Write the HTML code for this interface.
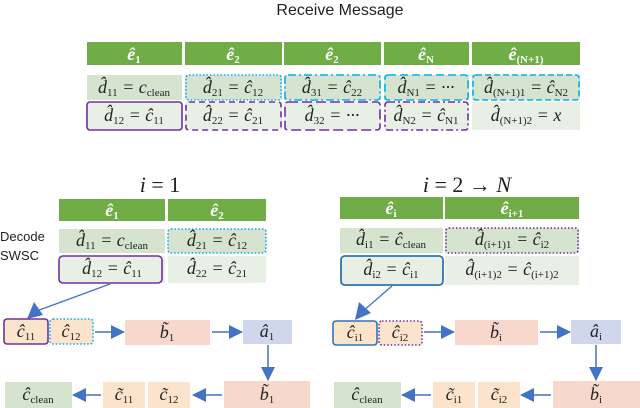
<!DOCTYPE html>
<html><head><meta charset="utf-8"><style>
html,body{margin:0;padding:0;background:#fff;}
svg{display:block;}
.m{font-family:"Liberation Serif",serif;font-style:italic;font-size:18px;fill:#222;}
.h{font-family:"Liberation Serif",serif;font-style:italic;font-weight:bold;font-size:18px;fill:#fff;}
.s{font-size:11px;font-style:normal;}
</style></head><body>
<svg width="640" height="408" viewBox="0 0 640 408" xmlns="http://www.w3.org/2000/svg">
<defs>
<marker id="ar" markerWidth="14" markerHeight="14" refX="13" refY="7" orient="auto" markerUnits="userSpaceOnUse" viewBox="0 0 14 14"><path d="M0,0 L14,7 L0,14z" fill="#4472c4"/></marker>
</defs>
<text x="340" y="15" text-anchor="middle" font-family="Liberation Sans,sans-serif" font-size="16" fill="#222">Receive Message</text>

<!-- top table -->
<g fill="#70ad47">
<rect x="87" y="42" width="95" height="23"/><rect x="185" y="42" width="97" height="23"/><rect x="284" y="42" width="97" height="23"/><rect x="384" y="42" width="85" height="23"/><rect x="472" y="42" width="108" height="23"/>
</g>
<g fill="#d5e3cf">
<rect x="87" y="75" width="95" height="25"/><rect x="185" y="75" width="97" height="25"/><rect x="284" y="75" width="97" height="25"/><rect x="384" y="75" width="85" height="25"/><rect x="472" y="75" width="108" height="25"/>
</g>
<g fill="#e8efe5">
<rect x="87" y="102" width="95" height="28"/><rect x="185" y="102" width="97" height="28"/><rect x="284" y="102" width="97" height="28"/><rect x="384" y="102" width="85" height="28"/><rect x="472" y="102" width="108" height="28"/>
</g>
<g class="h" text-anchor="middle">
<text x="134" y="60">ê<tspan class="s" dy="3">1</tspan></text>
<text x="233" y="60">ê<tspan class="s" dy="3">2</tspan></text>
<text x="332" y="60">ê<tspan class="s" dy="3">2</tspan></text>
<text x="426" y="60">ê<tspan class="s" dy="3">N</tspan></text>
<text x="526" y="60">ê<tspan class="s" dy="3">(N+1)</tspan></text>
</g>
<g class="m" text-anchor="middle">
<text x="134" y="93">d̂<tspan class="s" dy="3">11</tspan><tspan dy="-3"> = c</tspan><tspan class="s" dy="3">clean</tspan></text>
<text x="233" y="93">d̂<tspan class="s" dy="3">21</tspan><tspan dy="-3"> = ĉ</tspan><tspan class="s" dy="3">12</tspan></text>
<text x="332" y="93">d̂<tspan class="s" dy="3">31</tspan><tspan dy="-3"> = ĉ</tspan><tspan class="s" dy="3">22</tspan></text>
<text x="426" y="93">d̂<tspan class="s" dy="3">N1</tspan><tspan dy="-3"> = ···</tspan></text>
<text x="526" y="93">d̂<tspan class="s" dy="3">(N+1)1</tspan><tspan dy="-3"> = ĉ</tspan><tspan class="s" dy="3">N2</tspan></text>
<text x="134" y="121">d̂<tspan class="s" dy="3">12</tspan><tspan dy="-3"> = ĉ</tspan><tspan class="s" dy="3">11</tspan></text>
<text x="233" y="121">d̂<tspan class="s" dy="3">22</tspan><tspan dy="-3"> = ĉ</tspan><tspan class="s" dy="3">21</tspan></text>
<text x="332" y="121">d̂<tspan class="s" dy="3">32</tspan><tspan dy="-3"> = ···</tspan></text>
<text x="426" y="121">d̂<tspan class="s" dy="3">N2</tspan><tspan dy="-3"> = ĉ</tspan><tspan class="s" dy="3">N1</tspan></text>
<text x="526" y="121">d̂<tspan class="s" dy="3">(N+1)2</tspan><tspan dy="-3"> = x</tspan></text>
</g>
<g fill="none" stroke-width="1.6">
<rect x="186" y="75" width="95" height="25" rx="3" stroke="#00b0f0" stroke-dasharray="1.5,2"/>
<rect x="285" y="75" width="95" height="25" rx="3" stroke="#00b0f0" stroke-dasharray="8,3,2,3"/>
<rect x="385" y="75" width="83" height="25" rx="3" stroke="#00b0f0" stroke-dasharray="8,4"/>
<rect x="473" y="75" width="106" height="25" rx="3" stroke="#00b0f0" stroke-dasharray="6,3"/>
<rect x="87" y="102" width="95" height="28" rx="3" stroke="#7030a0"/>
<rect x="186" y="102" width="95" height="28" rx="3" stroke="#7030a0" stroke-dasharray="6,4"/>
<rect x="285" y="102" width="95" height="28" rx="3" stroke="#7030a0" stroke-dasharray="10,4"/>
<rect x="385" y="102" width="83" height="28" rx="3" stroke="#7030a0" stroke-dasharray="7,3,2,3"/>
</g>

<!-- left -->
<text x="160" y="192" text-anchor="middle" font-family="Liberation Serif,serif" font-size="22" fill="#222"><tspan font-style="italic">i</tspan> = 1</text>
<text x="0" y="241" font-family="Liberation Sans,sans-serif" font-size="13" fill="#222">Decode</text>
<text x="0" y="260" font-family="Liberation Sans,sans-serif" font-size="13" fill="#222">SWSC</text>
<rect x="59" y="199" width="106" height="22" fill="#70ad47"/><rect x="168" y="199" width="98" height="22" fill="#70ad47"/>
<rect x="59" y="229" width="106" height="24" fill="#d5e3cf"/><rect x="168" y="229" width="98" height="24" fill="#d5e3cf"/>
<rect x="59" y="256" width="106" height="27" fill="#e8efe5"/><rect x="168" y="256" width="98" height="27" fill="#e8efe5"/>
<g class="h" text-anchor="middle"><text x="112" y="216">ê<tspan class="s" dy="3">1</tspan></text><text x="217" y="216">ê<tspan class="s" dy="3">2</tspan></text></g>
<g class="m" text-anchor="middle">
<text x="112" y="246">d̂<tspan class="s" dy="3">11</tspan><tspan dy="-3"> = c</tspan><tspan class="s" dy="3">clean</tspan></text>
<text x="217" y="246">d̂<tspan class="s" dy="3">21</tspan><tspan dy="-3"> = ĉ</tspan><tspan class="s" dy="3">12</tspan></text>
<text x="112" y="274">d̂<tspan class="s" dy="3">12</tspan><tspan dy="-3"> = ĉ</tspan><tspan class="s" dy="3">11</tspan></text>
<text x="217" y="274">d̂<tspan class="s" dy="3">22</tspan><tspan dy="-3"> = ĉ</tspan><tspan class="s" dy="3">21</tspan></text>
</g>
<rect x="168" y="229" width="98" height="24" rx="3" fill="none" stroke="#00b0f0" stroke-width="1.6" stroke-dasharray="1.5,2"/>
<rect x="59" y="256" width="103" height="27" rx="4" fill="none" stroke="#7030a0" stroke-width="1.6"/>
<line x1="110" y1="284" x2="34" y2="312" stroke="#4472c4" stroke-width="1.3"/>
<path d="M27,319 L34,302 L43,315z" fill="#4472c4"/>

<rect x="4" y="319" width="44" height="25" fill="#fce4cc"/><rect x="50" y="319" width="43" height="25" fill="#fce4cc"/>
<rect x="4" y="319" width="44" height="25" rx="3" fill="none" stroke="#7030a0" stroke-width="1.6"/>
<rect x="50" y="319" width="43" height="25" rx="3" fill="none" stroke="#00b0f0" stroke-width="1.6" stroke-dasharray="1.5,2"/>
<rect x="125" y="320" width="85" height="25" fill="#f8d7cc"/>
<rect x="243" y="320" width="49" height="24" fill="#d0d6ec"/>
<rect x="224" y="381" width="86" height="27" fill="#f8d7cc"/>
<rect x="103" y="382" width="42" height="26" fill="#fce4cc"/><rect x="148" y="382" width="42" height="26" fill="#fce4cc"/>
<rect x="5" y="382" width="67" height="26" fill="#d5e3cf"/>
<g stroke="#4472c4" stroke-width="1.5" marker-end="url(#ar)">
<line x1="95" y1="332" x2="124" y2="332"/><line x1="212" y1="332" x2="242" y2="332"/>
<line x1="268" y1="345" x2="268" y2="380"/><line x1="222" y1="395" x2="193" y2="395"/><line x1="101" y1="395" x2="73" y2="395"/>
</g>
<g class="m" text-anchor="middle">
<text x="26" y="337">ĉ<tspan class="s" dy="3">11</tspan></text><text x="71" y="337">ĉ<tspan class="s" dy="3">12</tspan></text>
<text x="167" y="338">b̃<tspan class="s" dy="3">1</tspan></text><text x="267" y="337">â<tspan class="s" dy="3">1</tspan></text>
<text x="267" y="400">b̃<tspan class="s" dy="3">1</tspan></text>
<text x="124" y="400">c̃<tspan class="s" dy="3">11</tspan></text><text x="169" y="400">c̃<tspan class="s" dy="3">12</tspan></text>
<text x="38" y="400">ĉ<tspan class="s" dy="3">clean</tspan></text>
</g>

<!-- right -->
<text x="467" y="192" text-anchor="middle" font-family="Liberation Serif,serif" font-size="22" fill="#222"><tspan font-style="italic">i</tspan> = 2 → <tspan font-style="italic">N</tspan></text>
<rect x="340" y="197" width="103" height="22" fill="#70ad47"/><rect x="445" y="197" width="134" height="22" fill="#70ad47"/>
<rect x="340" y="228" width="103" height="25" fill="#d5e3cf"/><rect x="445" y="228" width="134" height="25" fill="#d5e3cf"/>
<rect x="340" y="256" width="103" height="29" fill="#e8efe5"/><rect x="445" y="256" width="134" height="29" fill="#e8efe5"/>
<g class="h" text-anchor="middle"><text x="391" y="214">ê<tspan class="s" dy="3">i</tspan></text><text x="512" y="214">ê<tspan class="s" dy="3">i+1</tspan></text></g>
<g class="m" text-anchor="middle">
<text x="391" y="245">d̂<tspan class="s" dy="3">i1</tspan><tspan dy="-3"> = ĉ</tspan><tspan class="s" dy="3">clean</tspan></text>
<text x="512" y="245">d̂<tspan class="s" dy="3">(i+1)1</tspan><tspan dy="-3"> = ĉ</tspan><tspan class="s" dy="3">i2</tspan></text>
<text x="391" y="275">d̂<tspan class="s" dy="3">i2</tspan><tspan dy="-3"> = ĉ</tspan><tspan class="s" dy="3">i1</tspan></text>
<text x="512" y="275">d̂<tspan class="s" dy="3">(i+1)2</tspan><tspan dy="-3"> = ĉ</tspan><tspan class="s" dy="3">(i+1)2</tspan></text>
</g>
<rect x="446" y="228" width="132" height="25" rx="3" fill="none" stroke="#7030a0" stroke-width="1.6" stroke-dasharray="1.5,2"/>
<rect x="341" y="256" width="102" height="29" rx="4" fill="none" stroke="#2e75b6" stroke-width="1.8"/>
<line x1="392" y1="286" x2="362" y2="312" stroke="#4472c4" stroke-width="1.3"/>
<path d="M355,320 L359,302 L371,313z" fill="#4472c4"/>

<rect x="333" y="321" width="44" height="24" fill="#fce4cc"/><rect x="379" y="321" width="43" height="24" fill="#fce4cc"/>
<rect x="333" y="321" width="44" height="24" rx="3" fill="none" stroke="#2e75b6" stroke-width="1.6"/>
<rect x="379" y="321" width="43" height="24" rx="3" fill="none" stroke="#7030a0" stroke-width="1.6" stroke-dasharray="1.5,2"/>
<rect x="455" y="320" width="83" height="25" fill="#f8d7cc"/>
<rect x="571" y="320" width="50" height="24" fill="#d0d6ec"/>
<rect x="553" y="381" width="87" height="27" fill="#f8d7cc"/>
<rect x="433" y="382" width="42" height="26" fill="#fce4cc"/><rect x="478" y="382" width="42" height="26" fill="#fce4cc"/>
<rect x="334" y="382" width="67" height="26" fill="#d5e3cf"/>
<g stroke="#4472c4" stroke-width="1.5" marker-end="url(#ar)">
<line x1="424" y1="332" x2="454" y2="332"/><line x1="540" y1="332" x2="570" y2="332"/>
<line x1="596" y1="345" x2="596" y2="380"/><line x1="551" y1="395" x2="521" y2="395"/><line x1="431" y1="395" x2="402" y2="395"/>
</g>
<g class="m" text-anchor="middle">
<text x="355" y="338">ĉ<tspan class="s" dy="3">i1</tspan></text><text x="400" y="338">ĉ<tspan class="s" dy="3">i2</tspan></text>
<text x="496" y="338">b̃<tspan class="s" dy="3">i</tspan></text><text x="596" y="337">â<tspan class="s" dy="3">i</tspan></text>
<text x="596" y="400">b̃<tspan class="s" dy="3">i</tspan></text>
<text x="454" y="400">c̃<tspan class="s" dy="3">i1</tspan></text><text x="499" y="400">c̃<tspan class="s" dy="3">i2</tspan></text>
<text x="367" y="400">ĉ<tspan class="s" dy="3">clean</tspan></text>
</g>
</svg>
</body></html>
